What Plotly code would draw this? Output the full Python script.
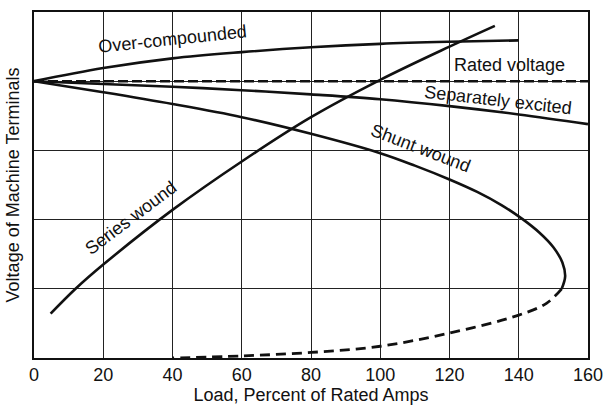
import plotly.graph_objects as go

# ---- data (x: load, % of rated amps; y: terminal voltage in grid units, rated = 4) ----
over_x = [0, 20, 40, 60, 80, 100, 120, 140]
over_y = [4.0, 4.19, 4.33, 4.42, 4.49, 4.54, 4.57, 4.59]

rated_x = [0, 160]
rated_y = [4.0, 4.0]

sep_x = [0, 20, 40, 60, 80, 100, 120, 140, 160]
sep_y = [4.0, 3.96, 3.92, 3.87, 3.81, 3.74, 3.64, 3.52, 3.38]

shunt_x = [0, 20, 40, 60, 80, 100, 110, 120, 128, 135, 141, 146, 150, 152.6, 153.4, 152.4]
shunt_y = [4.0, 3.84, 3.67, 3.48, 3.24, 2.96, 2.78, 2.58, 2.40, 2.21, 2.01, 1.81, 1.6, 1.38, 1.18, 1.0]

shunt_unstable_x = [152.4, 148, 140, 120, 100, 80, 60, 40]
shunt_unstable_y = [1.0, 0.79, 0.62, 0.36, 0.17, 0.08, 0.03, 0.0]

series_x = [4.8, 12, 20, 40, 60, 80, 100, 120, 133.1]
series_y = [0.64, 1.0, 1.35, 2.14, 2.84, 3.48, 4.02, 4.5, 4.8]

x_ticks = [0, 20, 40, 60, 80, 100, 120, 140, 160]

labels = ["Over-compounded", "Rated voltage", "Separately excited", "Shunt wound", "Series wound"]
label_x = [40.1, 137.2, 133.9, 111.5, 27.9]
label_y = [4.61, 4.23, 3.73, 3.03, 2.03]
label_angle = [-6, 0, 6.5, 21, -37]

FONT = "Liberation Sans, Arial, sans-serif"
INK = "#111111"

fig = go.Figure()

def add_line(x, y, dash="solid", width=2.6):
    fig.add_trace(go.Scatter(
        x=x, y=y, mode="lines",
        line=dict(color=INK, width=width, dash=dash, shape="spline", smoothing=1.0),
        showlegend=False, hoverinfo="skip"))

add_line(over_x, over_y)
add_line(rated_x, rated_y, dash="10px,4px", width=2.4)
add_line(sep_x, sep_y)
add_line(shunt_x, shunt_y)
add_line(shunt_unstable_x, shunt_unstable_y, dash="10px,6px", width=2.8)
add_line(series_x, series_y)

for t, x, y, a in zip(labels, label_x, label_y, label_angle):
    fig.add_annotation(x=x, y=y, xref="x", yref="y", text=t, showarrow=False,
                       textangle=a, font=dict(family=FONT, size=18, color=INK))

fig.update_layout(
    width=607, height=406,
    margin=dict(l=34, r=19, t=12, b=48),
    paper_bgcolor="white", plot_bgcolor="white",
    font=dict(family=FONT, color=INK),
)
fig.update_xaxes(
    range=[0, 160], tickvals=x_ticks, ticktext=[str(v) for v in x_ticks],
    showgrid=True, gridcolor="#222222", gridwidth=1,
    showline=True, linecolor=INK, linewidth=1.6, mirror=True,
    zeroline=False, ticks="", tickfont=dict(size=18, family=FONT),
    title=dict(text="Load, Percent of Rated Amps", font=dict(size=18, family=FONT), standoff=3),
    automargin=False,
)
fig.update_yaxes(
    range=[0, 5], dtick=1, showticklabels=False,
    showgrid=True, gridcolor="#222222", gridwidth=1,
    showline=True, linecolor=INK, linewidth=1.6, mirror=True,
    zeroline=False, ticks="",
    title=dict(text="Voltage of Machine Terminals", font=dict(size=18, family=FONT), standoff=8),
    automargin=False,
)

fig.write_html("out.html",
               config={"displayModeBar": False},
               post_script="document.body.style.margin='0';document.body.style.padding='0';")
